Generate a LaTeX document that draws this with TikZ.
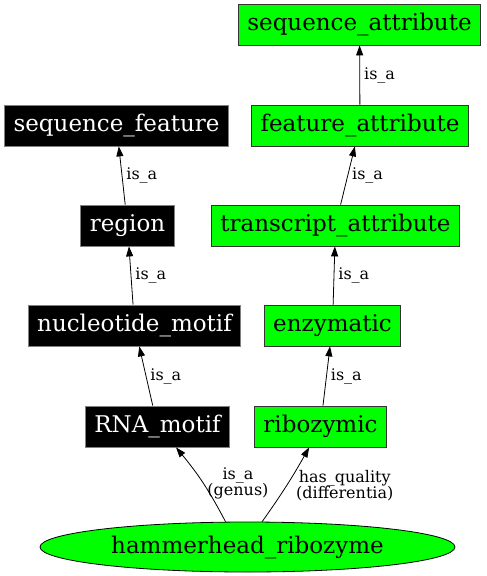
\documentclass[tikz,border=0pt]{standalone}
\usepackage{fontspec}
\setmainfont{DejaVu Serif}
\usetikzlibrary{arrows.meta,shapes.geometric}

\definecolor{termgreen}{RGB}{0,255,0}

\tikzset{
  term/.style={draw=black!80, line width=.8pt, minimum height=41pt, inner xsep=9pt,
    font=\fontsize{23}{26}\selectfont},
  blackterm/.style={term, fill=black, text=white, draw=gray},
  greenterm/.style={term, fill=termgreen, text=black},
  rel/.style={-{Triangle[length=10pt,width=7pt]}, line width=.8pt},
  rellabel/.style={right, inner sep=4pt, font=\fontsize{16}{16}\selectfont, align=center}
}

\begin{document}
\begin{tikzpicture}[x=1pt,y=-1pt]
  \useasboundingbox (0,0) rectangle (487,576);
  % left column
  \node[blackterm] (seqfeat) at (116.5,125.5) {sequence\_feature};
  \node[blackterm] (region) at (127.5,225.5) {region};
  \node[blackterm] (nucmotif) at (134.5,325.5) {nucleotide\_motif};
  \node[blackterm] (rnamotif) at (157.5,426.5) {RNA\_motif};
  % right column
  \node[greenterm] (seqattr) at (359.5,24.5) {sequence\_attribute};
  \node[greenterm] (featattr) at (360,125.5) {feature\_attribute};
  \node[greenterm] (transattr) at (335.5,225.5) {transcript\_attribute};
  \node[greenterm] (enzymatic) at (332.5,325.5) {enzymatic};
  \node[greenterm] (ribozymic) at (320.5,426.5) {ribozymic};
  % the term itself
  \node[draw, ellipse, fill=termgreen, line width=.8pt, minimum width=415pt, minimum height=50pt,
    inner sep=0pt, font=\fontsize{23}{26}\selectfont] (hammer) at (247.5,547) {hammerhead\_ribozyme};

  \draw[rel] (region) -- (seqfeat) node[rellabel, midway] {is\_a};
  \draw[rel] (nucmotif) -- (region) node[rellabel, midway] {is\_a};
  \draw[rel] (rnamotif) -- (nucmotif) node[rellabel, midway] {is\_a};
  \draw[rel] (featattr) -- (seqattr) node[rellabel, midway] {is\_a};
  \draw[rel] (transattr) -- (featattr) node[rellabel, midway] {is\_a};
  \draw[rel] (enzymatic) -- (transattr) node[rellabel, midway] {is\_a};
  \draw[rel] (ribozymic) -- (enzymatic) node[rellabel, midway] {is\_a};
  \draw[rel] (hammer.131) to[bend right=6] node[rellabel, midway] {is\_a\\(genus)} (rnamotif);
  \draw[rel] (hammer.60) to[bend right=3] node[rellabel, midway, xshift=5pt] {has\_quality\\(differentia)} (ribozymic);
\end{tikzpicture}
\end{document}
